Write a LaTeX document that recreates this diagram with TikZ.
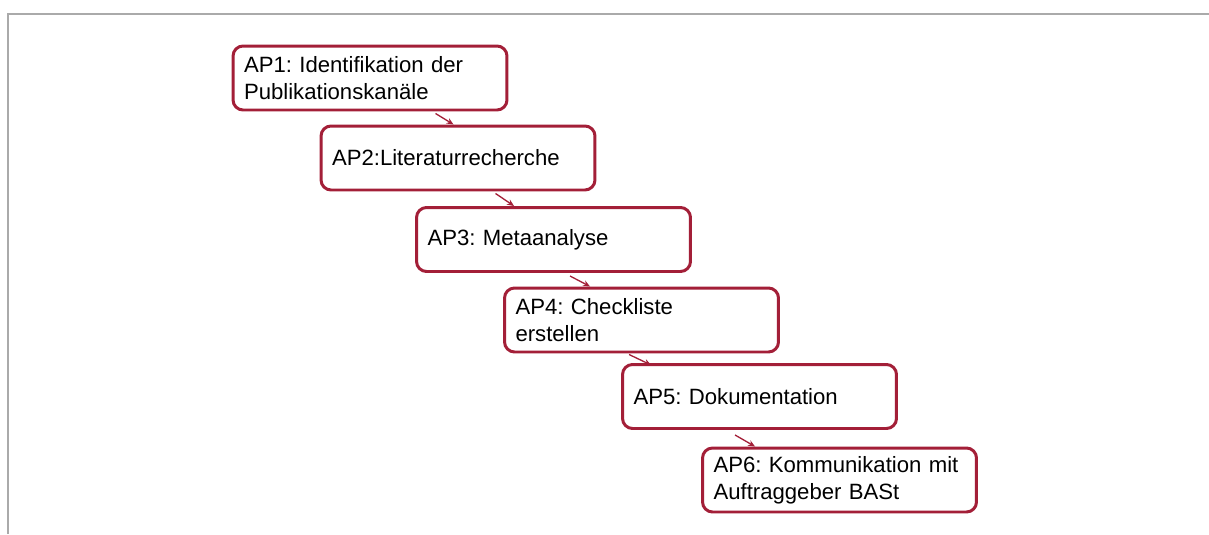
\documentclass[tikz,border=0pt]{standalone}
\usepackage{fontspec}
\setmainfont{Liberation Sans}
\usepackage{xcolor}
\usepackage{tikz}
\usetikzlibrary{arrows.meta,calc}
\frenchspacing

\definecolor{apred}{RGB}{163,31,56}
\definecolor{framegray}{RGB}{170,170,170}

\begin{document}
\begin{tikzpicture}[
      x=0.02cm, y=-0.02cm,
      apbox/.style={draw=apred, line width=1.7pt, rounded corners=0.2cm, fill=white,
                    minimum height=1.28cm, text width=5.04cm, inner xsep=0.22cm,
                    align=left, font=\fontsize{12.6}{15.5}\selectfont},
      arrow/.style={-{Stealth[length=1.4mm, width=1.2mm]}, draw=apred, line width=0.75pt}
  ]
  \useasboundingbox (0,0) rectangle (1209,534);

  %% ---- Frame ----
  \draw[framegray, line width=1pt] (8,534) -- (8,14) -- (1209,14);

  %% ---- Work packages ----
  \node[apbox] (ap1) at (370,78)    {AP1: Identifikation der\\Publikationskanäle};
  \node[apbox] (ap2) at (458,158) {AP2:Literaturrecherche};
  \node[apbox] (ap3) at (553.5,239.5) {AP3: Metaanalyse};
  \node[apbox] (ap4) at (641.5,320) {AP4: Checkliste\\erstellen};
  \node[apbox] (ap5) at (759.5,396.5) {AP5: Dokumentation};
  \node[apbox] (ap6) at (839.5,480) {AP6: Kommunikation mit\\Auftraggeber BASt};

  %% ---- Connections ----
  \draw[arrow] ($(ap1.south west)+(204,2)$) -- ($(ap2.north west)+(134,0)$);
  \draw[arrow] ($(ap2.south west)+(176,2)$) -- ($(ap3.north west)+(99,0)$);
  \draw[arrow] ($(ap3.south west)+(155,3)$) -- ($(ap4.north west)+(87,0)$);
  \draw[arrow] ($(ap4.south west)+(126,1)$) -- ($(ap5.north west)+(30,2)$);
  \draw[arrow] ($(ap5.south west)+(114,5)$) -- ($(ap6.north west)+(54,0)$);

\end{tikzpicture}
\end{document}
